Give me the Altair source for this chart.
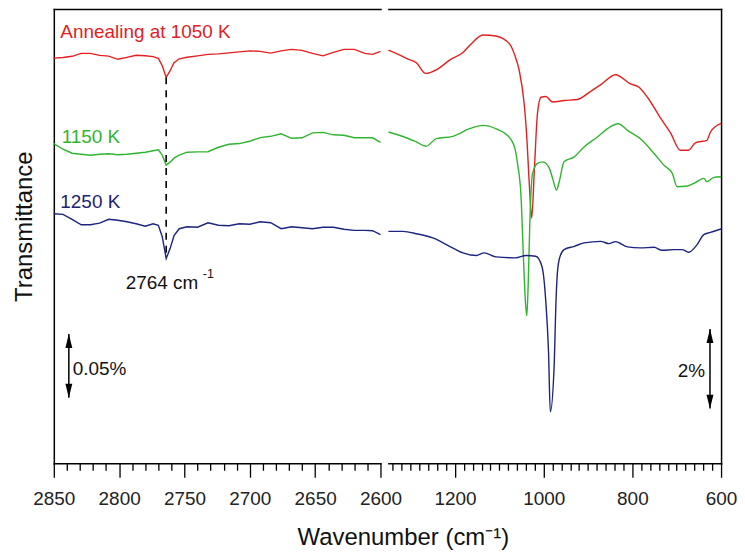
import altair as alt
import pandas as pd

FONT = "Liberation Sans"

# ---------------- data (transmittance, arbitrary units, no y ticks in original) -----------
SERIES = ["1050 K", "1150 K", "1250 K"]
COLORS = ["#e3201f", "#2fb52f", "#1c2480"]

# left panel: 2850-2600 cm-1 (scale bar 0.05 %)
W_LEFT = [2850, 2843, 2836, 2829, 2822, 2815, 2808, 2801, 2794, 2787, 2780, 2774, 2770,
          2767, 2764, 2761, 2758, 2754, 2748, 2740, 2732, 2724, 2716, 2708, 2700, 2692,
          2684, 2676, 2668, 2660, 2652, 2644, 2636, 2628, 2620, 2612, 2606, 2600]
RED_LEFT = [407.7, 408.3, 409.5, 412.5, 412.5, 410.5, 409.7, 406.5, 408.5, 410.5, 410, 409.2,
            407.5, 400, 388.3, 395, 403, 407, 408.5, 410, 411.5, 412, 413, 414, 415, 414.5,
            412.7, 415, 416.5, 415.5, 412.5, 410, 413.5, 416.5, 416.5, 412.5, 411.5, 414.5]
GREEN_LEFT = [321.7, 316, 312, 311, 310, 311, 311.5, 310.5, 311, 312, 313, 314.5, 315.5, 310,
              300, 303, 307, 310, 313, 313.3, 313.5, 318, 321, 321.7, 324, 327.7, 329, 331.5,
              327, 327.5, 332.5, 333, 330.5, 330, 327.5, 327.7, 327.5, 323]
BLUE_LEFT = [251, 250.5, 245.5, 240, 240, 241.7, 245.5, 244.5, 243, 241, 238.5, 241, 239.5,
             228, 206, 216, 229, 236, 238, 237.5, 242, 239.5, 239, 241, 240.5, 243, 242, 236,
             238, 237, 236, 237.5, 237.5, 235.5, 234.3, 234.3, 234, 230]

# right panel: 1350-600 cm-1 (scale bar 2 %)
W_RED_R = [1350, 1329, 1306, 1287, 1266, 1239, 1212, 1182, 1164, 1137, 1108, 1077, 1066, 1055,
           1044, 1039, 1032, 1027, 1021, 1014, 1006, 995, 980, 954, 924, 894, 871, 838, 804,
           785, 766, 736, 714, 692, 673, 658, 632, 624, 600]
RED_R = [415.7, 411.7, 406.7, 403, 392.3, 396.7, 405.7, 413.3, 421.7, 431, 430, 422, 411.7, 395,
         362, 335, 278.3, 246.7, 295, 351.7, 368.3, 369, 363.5, 365, 366, 374.3, 381, 391,
         381.7, 378.3, 368.3, 347, 332.5, 315, 315, 322.5, 325, 333.3, 342]
W_GREEN_R = [1350, 1314, 1287, 1265, 1242, 1205, 1167, 1137, 1108, 1074, 1063, 1059, 1051, 1046,
             1041, 1038, 1035, 1031, 1025, 1014, 1002, 987, 980, 971, 965, 954, 931, 909, 879,
             856, 832, 811, 778, 751, 729, 710, 699, 676, 661, 639, 632, 616, 600]
GREEN_R = [333.3, 328.3, 323.3, 319, 326.7, 329, 336.7, 340, 336.7, 326, 313, 301.7, 268.3,
           211.7, 161.7, 148.3, 178.3, 245, 291.7, 301.7, 303.3, 296.7, 287, 275, 283.3, 303.3,
           308.3, 318.3, 328.3, 336.7, 341.7, 335, 325, 311.7, 300, 291.7, 278.3, 279, 281.7,
           286.7, 283.3, 287.7, 288.3]
W_BLUE_R = [1350, 1317, 1287, 1250, 1212, 1182, 1152, 1134, 1108, 1063, 1040, 1018, 1004, 995,
            989, 985, 976, 973, 970, 965, 954, 931, 909, 871, 853, 838, 811, 782, 751, 733, 706,
            688, 673, 654, 639, 624, 600]
BLUE_R = [233.3, 233.3, 231, 226.7, 218.3, 211.7, 209, 211.7, 207.7, 206.7, 209, 208.3, 198.3,
          161.7, 111.7, 51.7, 102, 152, 185, 205, 215, 218.3, 221.7, 223.3, 221, 223, 217.7,
          216.7, 217.3, 214.3, 215, 215, 212.3, 220, 230, 232.3, 235.7]

# annotations
LEFT_LABELS = ["Annealing at 1050 K", "1150 K", "1250 K", "2764 cm"]
LEFT_LABEL_W = [2845, 2844, 2845, 2795]
LEFT_LABEL_T = [427.5, 322, 256.7, 175]
LEFT_LABEL_C = ["#e3201f", "#2fb52f", "#22226e", "#111111"]
PEAK_W = 2764
PEAK_T = [388.3, 206]
BAR_LEFT = {"w": 2838.5, "top": 130, "bot": 66, "text": "0.05%", "tw": 2835.5, "tt": 88.3}
BAR_RIGHT = {"w": 625, "top": 135, "bot": 55, "text": "2%", "tw": 631.5, "tt": 87}

# ---------------- frames -----------------------------------------------------------------
def long(ws, vals, s):
    return pd.DataFrame({"w": ws, "t": vals, "s": s})

df_left = pd.concat([long(W_LEFT, RED_LEFT, SERIES[0]), long(W_LEFT, GREEN_LEFT, SERIES[1]),
                     long(W_LEFT, BLUE_LEFT, SERIES[2])])
df_right = pd.concat([long(W_RED_R, RED_R, SERIES[0]), long(W_GREEN_R, GREEN_R, SERIES[1]),
                      long(W_BLUE_R, BLUE_R, SERIES[2])])

H = 456
FS = 19
ys = alt.Scale(domain=[0, 457], nice=False, zero=False)
xs_left = alt.Scale(domain=[2600, 2850], reverse=True, nice=False, zero=False)
xs_right = alt.Scale(domain=[600, 1350], reverse=True, nice=False, zero=False)
color = alt.Color("s:N", scale=alt.Scale(domain=SERIES, range=COLORS), legend=None)

def bottom_axis(values, major, title=None, **kw):
    return alt.Axis(values=values, format="d", grid=False, domainCap="square",
                    labelExpr=f"datum.value % {major} === 0 ? datum.label : ''",
                    tickSize={"condition": {"test": f"datum.value % {major} === 0", "value": 14},
                              "value": 7},
                    labelOverlap=False, labelFlush=False, labelPadding=12,
                    title=title, **kw)

top_axis = alt.Axis(orient="top", ticks=False, labels=False, title=None, grid=False,
                    domainCap="square")

# ---------------- left panel ---------------------------------------------------------------
l_lines = alt.Chart(df_left).mark_line(strokeWidth=1.4).encode(
    x=alt.X("w:Q", scale=xs_left, axis=bottom_axis(list(range(2600, 2851, 10)), 50)),
    y=alt.Y("t:Q", scale=ys, axis=alt.Axis(title="Transmittance", ticks=False, labels=False,
                                           grid=False, domainCap="square", titleFontSize=24,
                                           titleFontWeight="normal", titleX=-22, titleY=218,
                                           titleAngle=-90, titleAlign="center",
                                           titleBaseline="alphabetic")),
    color=color, detail="s:N")

df_peak = pd.DataFrame({"w": [PEAK_W], "t": [PEAK_T[0]], "t2": [PEAK_T[1]]})
l_dash = alt.Chart(df_peak).mark_rule(strokeDash=[7, 6], strokeWidth=1.6, color="black").encode(
    x=alt.X("w:Q", scale=xs_left, axis=top_axis),
    y=alt.Y("t:Q", scale=ys, axis=None), y2="t2:Q")

df_ltext = pd.DataFrame({"w": LEFT_LABEL_W, "t": LEFT_LABEL_T, "label": LEFT_LABELS,
                         "c": LEFT_LABEL_C})
l_text = alt.Chart(df_ltext).mark_text(align="left", baseline="alphabetic", fontSize=FS,
                                       font=FONT).encode(
    x=alt.X("w:Q", scale=xs_left, axis=None), y=alt.Y("t:Q", scale=ys, axis=None),
    text="label:N", color=alt.Color("c:N", scale=None))

df_sup = pd.DataFrame({"w": [2736], "t": [186.7], "label": ["-1"]})
l_sup = alt.Chart(df_sup).mark_text(align="left", baseline="alphabetic", fontSize=12.5,
                                    font=FONT, color="#111").encode(
    x=alt.X("w:Q", scale=xs_left, axis=None), y=alt.Y("t:Q", scale=ys, axis=None),
    text="label:N")

def bar_layers(bar, xs, align, dx):
    d = pd.DataFrame({"w": [bar["w"]], "top": [bar["top"]], "bot": [bar["bot"]]})
    shaft = alt.Chart(d).mark_rule(strokeWidth=1.5, color="black").encode(
        x=alt.X("w:Q", scale=xs, axis=None), y=alt.Y("top:Q", scale=ys, axis=None), y2="bot:Q")
    head_up = alt.Chart(d).mark_point(shape="M0,0L0.5,2L-0.5,2Z", size=196, filled=True,
                                      color="black", opacity=1, strokeWidth=0).encode(
        x=alt.X("w:Q", scale=xs, axis=None), y=alt.Y("top:Q", scale=ys, axis=None))
    head_dn = alt.Chart(d).mark_point(shape="M0,0L0.5,-2L-0.5,-2Z", size=196, filled=True,
                                      color="black", opacity=1, strokeWidth=0).encode(
        x=alt.X("w:Q", scale=xs, axis=None), y=alt.Y("bot:Q", scale=ys, axis=None))
    dt = pd.DataFrame({"w": [bar["tw"]], "t": [bar["tt"]], "label": [bar["text"]]})
    txt = alt.Chart(dt).mark_text(align=align, baseline="alphabetic", fontSize=FS, font=FONT,
                                  color="#111", dx=dx).encode(
        x=alt.X("w:Q", scale=xs, axis=None), y=alt.Y("t:Q", scale=ys, axis=None),
        text="label:N")
    return [shaft, head_up, head_dn, txt]

left = alt.layer(l_lines, l_dash, l_text, l_sup,
                 *bar_layers(BAR_LEFT, xs_left, "left", 0)).resolve_axis(
    x="independent", y="independent").properties(width=328, height=H)

# ---------------- right panel --------------------------------------------------------------
r_lines = alt.Chart(df_right).mark_line(strokeWidth=1.4, interpolate="monotone").encode(
    x=alt.X("w:Q", scale=xs_right,
            axis=bottom_axis(list(range(600, 1341, 20)), 200, title="Wavenumber (cm\u207b\u00b9)",
                             titleX=14.5, titleY=82, titleAlign="center",
                             titleBaseline="alphabetic", titleFontSize=24,
                             titleFontWeight="normal")),
    y=alt.Y("t:Q", scale=ys, axis=alt.Axis(orient="right", ticks=False, labels=False,
                                           title=None, grid=False, domainCap="square")),
    color=color, detail="s:N")

r_bars = bar_layers(BAR_RIGHT, xs_right, "right", -2)
r_bars[0] = r_bars[0].encode(x=alt.X("w:Q", scale=xs_right, axis=top_axis))

right = alt.layer(r_lines, *r_bars).resolve_axis(
    x="independent", y="independent").properties(width=334, height=H)

chart = alt.hconcat(left, right, spacing=8, bounds="flush").resolve_scale(
    x="independent", y="independent").properties(
    padding={"left": 5, "right": 0, "top": 0, "bottom": 0}
).configure_view(stroke=None).configure_axis(
    domainColor="black", domainWidth=1.5, tickColor="black", tickWidth=1.3,
    labelFont=FONT, labelFontSize=FS, labelColor="#222222",
    titleFont=FONT, titleColor="#111111")

chart.save("out.html", embed_options={"renderer": "svg", "actions": False})
